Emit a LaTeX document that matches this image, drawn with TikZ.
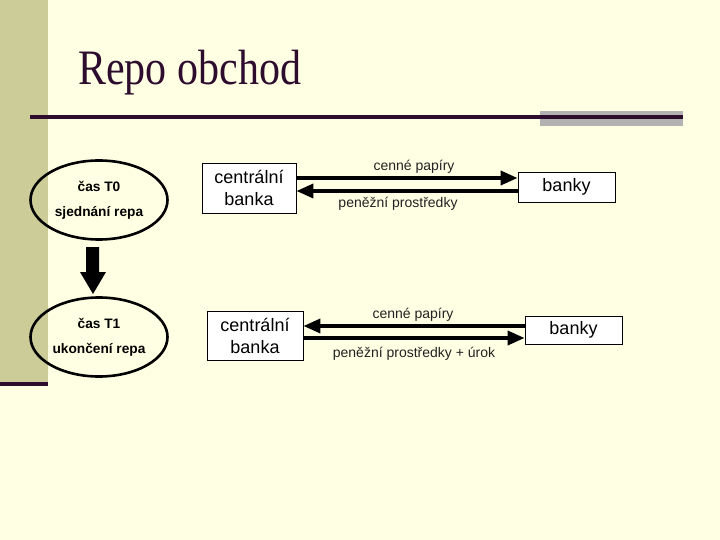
\documentclass[tikz,border=0pt]{standalone}
\usepackage{fontspec}
\setmainfont{Liberation Sans}
\newfontfamily\titlefont{Liberation Serif}
\usetikzlibrary{shapes.geometric,arrows.meta}
\definecolor{bgc}{RGB}{255,255,228}
\definecolor{barc}{RGB}{204,204,153}
\definecolor{plum}{RGB}{46,12,46}
\definecolor{grayr}{RGB}{178,178,178}
\definecolor{lblc}{RGB}{34,34,34}
\begin{document}
\begin{tikzpicture}[x=1pt,y=-1pt,
  oval/.style={ellipse,draw=black,line width=2.6pt,minimum width=137pt,minimum height=79pt,inner sep=0pt,align=center,font=\bfseries\fontsize{13.7}{25}\selectfont},
  boxn/.style={rectangle,draw=black,line width=0.8pt,fill=white,inner sep=0pt,align=center,font=\fontsize{18}{22}\selectfont},
  flow/.style={line width=3.6pt,-{Triangle[length=17pt,width=14pt]}},
  lbl/.style={inner sep=0pt,text=lblc,font=\fontsize{14}{16}\selectfont}]
\useasboundingbox (0,0) rectangle (720,540);
\fill[bgc] (0,0) rectangle (720,540);
\fill[barc] (0,0) rectangle (48,382);
\fill[plum] (0,382) rectangle (48,386);
% title
\node[anchor=base west,inner sep=0pt,text=plum] (title) at (78,85) {\titlefont\scalebox{1}[1.18]{\fontsize{42}{48}\selectfont Repo obchod}};
\fill[grayr] (540,111) rectangle (683,126);
\draw[plum,line width=3.5pt] (30,117) -- (683,117);
% ellipses
\node[oval] (e1) at (99,200) {čas T0\\sjednání repa};
\node[oval] (e2) at (99,337) {čas T1\\ukončení repa};
% block arrow
\fill[black] (86,247) -- (99,247) -- (99,272) -- (106,272) -- (93,294) -- (80,272) -- (86,272) -- cycle;
% boxes
\node[boxn,minimum width=94pt,minimum height=50pt] (cb1) at (249,188) {centrální\\banka};
\node[boxn,minimum width=97pt,minimum height=30pt] (bk1) at (566.5,187) {banky};
\node[boxn,minimum width=96pt,minimum height=49pt] (cb2) at (255,335.5) {centrální\\banka};
\node[boxn,minimum width=97pt,minimum height=28pt] (bk2) at (573.5,330) {banky};
% flows
\draw[flow] (cb1.east |- 0,178) -- (bk1.west |- 0,178);
\draw[flow] (bk1.west |- 0,191) -- (cb1.east |- 0,191);
\draw[flow] (bk2.west |- 0,326) -- (cb2.east |- 0,326);
\draw[flow] (cb2.east |- 0,338) -- (bk2.west |- 0,338);
% labels
\node[lbl] (l1) at (414,167) {cenné papíry};
\node[lbl] (l2) at (398,204) {peněžní prostředky};
\node[lbl] (l3) at (413,315) {cenné papíry};
\node[lbl] (l4) at (414,354) {peněžní prostředky + úrok};
\end{tikzpicture}
\end{document}
